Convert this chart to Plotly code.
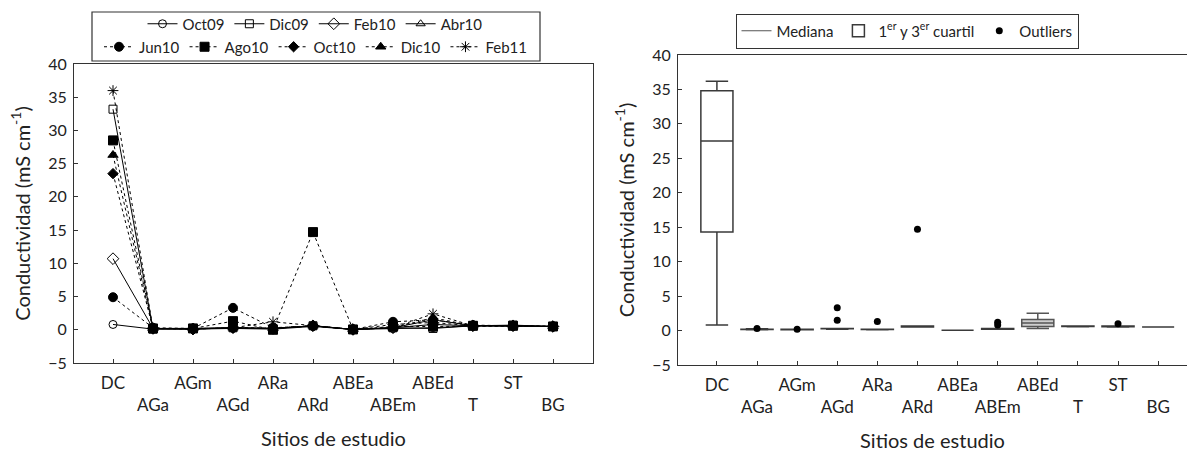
import plotly.graph_objects as go

W, H = 1187, 452

# ---------------- data ----------------
sites = ["DC", "AGa", "AGm", "AGd", "ARa", "ARd", "ABEa", "ABEm", "ABEd", "T", "ST", "BG"]

campaigns = ["Oct09", "Dic09", "Feb10", "Abr10", "Jun10", "Ago10", "Oct10", "Dic10", "Feb11"]
oct09 = [0.8, 0.1, 0.1, 0.2, 0.1, 0.5, 0.05, 0.2, 0.3, 0.6, 0.6, 0.5]
dic09 = [33.2, 0.1, 0.2, 0.3, 0.2, 0.6, 0.05, 0.3, 0.2, 0.6, 0.7, 0.5]
feb10 = [10.7, 0.2, 0.1, 0.3, 0.2, 0.6, 0.05, 0.3, 0.8, 0.6, 0.6, 0.5]
abr10 = [None, 0.2, 0.1, 0.3, 0.2, 0.6, 0.05, 0.3, 1.5, 0.6, 0.6, 0.5]
jun10 = [4.9, 0.3, 0.2, 3.3, 0.3, 0.6, 0.05, 1.2, 1.5, 0.7, 0.6, 0.5]
ago10 = [28.5, 0.2, 0.2, 1.3, 0.0, 14.7, 0.05, 0.5, 0.5, 0.6, 0.6, 0.5]
oct10 = [23.5, 0.2, 0.1, 0.3, 0.2, 0.6, 0.05, 0.8, 1.1, 0.6, 0.6, 0.5]
dic10 = [26.3, 0.2, 0.2, 0.3, 0.2, 0.6, 0.05, 0.3, 1.8, 0.6, 0.6, 0.5]
feb11 = [36.0, 0.2, 0.2, 0.3, 1.2, 0.6, 0.05, 0.3, 2.4, 0.6, 0.6, 0.5]
series = [oct09, dic09, feb10, abr10, jun10, ago10, oct10, dic10, feb11]

# box statistics per site (right panel)
q1 = [14.3, 0.15, 0.10, 0.25, 0.15, 0.50, 0.05, 0.20, 0.60, 0.60, 0.55, 0.50]
median = [27.5, 0.20, 0.15, 0.30, 0.20, 0.60, 0.05, 0.30, 1.10, 0.60, 0.60, 0.50]
q3 = [34.8, 0.20, 0.20, 0.30, 0.20, 0.65, 0.05, 0.30, 1.60, 0.65, 0.65, 0.50]
lowerfence = [0.8, 0.10, 0.10, 0.20, 0.10, 0.50, 0.05, 0.20, 0.30, 0.55, 0.50, 0.50]
upperfence = [36.2, 0.25, 0.20, 0.30, 0.20, 0.65, 0.05, 0.30, 2.50, 0.65, 0.65, 0.50]

outlier_sites = ["AGa", "AGm", "AGd", "AGd", "ARa", "ARd", "ABEm", "ABEm", "ST"]
outlier_values = [0.3, 0.2, 1.5, 3.3, 1.3, 14.7, 0.8, 1.2, 1.0]

y_ticks = [-5, 0, 5, 10, 15, 20, 25, 30, 35, 40]

# ---------------- styles ----------------
FONT = "Lato"
symbols = ["circle-open", "square-open", "diamond-open", "triangle-up-open",
           "circle", "square", "diamond", "triangle-up", "asterisk-open"]
dashes = ["solid"] * 4 + ["dot"] * 5
sizes = [8, 8, 9, 8, 9, 9, 8, 9, 9]

fig = go.Figure()

xidx = list(range(len(sites)))
for i, (name, vals) in enumerate(zip(campaigns, series)):
    fig.add_trace(go.Scatter(
        x=xidx, y=vals, name=name, mode="lines+markers",
        line=dict(color="black", width=1, dash=dashes[i]),
        marker=dict(symbol=symbols[i], size=sizes[i], color="black",
                    line=dict(color="black", width=1)),
        legend="legend" if i < 4 else "legend2",
        xaxis="x", yaxis="y", connectgaps=False,
    ))

# right panel
box_color = "#3a3a3a"
fig.add_trace(go.Scatter(
    x=[None], y=[None], mode="lines", name="Mediana",
    line=dict(color="#555555", width=1), legend="legend3",
    xaxis="x2", yaxis="y2",
))
idx_abed = sites.index("ABEd")
main_idx = [i for i in xidx if i != idx_abed]
fig.add_trace(go.Box(
    x=main_idx,
    q1=[q1[i] for i in main_idx], median=[median[i] for i in main_idx],
    q3=[q3[i] for i in main_idx],
    lowerfence=[lowerfence[i] for i in main_idx],
    upperfence=[upperfence[i] for i in main_idx],
    name="1<sup>er</sup> y 3<sup>er</sup> cuartil",
    fillcolor="white", line=dict(color=box_color, width=1.5),
    width=0.8, whiskerwidth=0.7, boxpoints=False,
    legend="legend3", xaxis="x2", yaxis="y2",
))
fig.add_trace(go.Box(
    x=[idx_abed], q1=[q1[idx_abed]], median=[median[idx_abed]], q3=[q3[idx_abed]],
    lowerfence=[lowerfence[idx_abed]], upperfence=[upperfence[idx_abed]],
    name="ABEd", showlegend=False,
    fillcolor="#cfcfcf", line=dict(color="#555555", width=1.5),
    width=0.8, whiskerwidth=0.7, boxpoints=False,
    xaxis="x2", yaxis="y2",
))
fig.add_trace(go.Scatter(
    x=[sites.index(s) for s in outlier_sites], y=outlier_values,
    mode="markers", name="Outliers",
    marker=dict(symbol="circle", size=7, color="black"),
    legend="legend3", xaxis="x2", yaxis="y2",
))

# ---------------- layout ----------------
def px_x(v):
    return v / W

def px_y(v):
    return 1 - v / H

ticktext = [s if i % 2 == 0 else "<br>" + s for i, s in enumerate(sites)]

axis_common = dict(
    showline=True, linecolor="#333333", linewidth=1.2,
    ticks="inside", ticklen=4, tickcolor="#333333",
    showgrid=False, zeroline=False, automargin=False,
)
xfont = dict(family=FONT, size=17, color="#222222")
yfont = dict(family=FONT, size=16, color="#222222")
tfont = dict(family=FONT, size=20, color="#222222")
lfont = dict(family=FONT, size=15, color="#222222")

fig.update_layout(
    width=W, height=H,
    margin=dict(l=0, r=0, t=0, b=0),
    paper_bgcolor="white", plot_bgcolor="white",
    showlegend=True,
    xaxis=dict(domain=[px_x(74), px_x(593)], range=[-0.975, 12.0],
               tickmode="array", tickvals=xidx, ticktext=ticktext, tickangle=0,
               ticklabelstandoff=4,
               tickfont=xfont, mirror=True, anchor="y",
               title=dict(text="Sitios de estudio", font=tfont, standoff=18),
               **axis_common),
    yaxis=dict(domain=[px_y(363), px_y(64)], range=[-5, 40],
               tickmode="array", tickvals=y_ticks, tickfont=yfont,
               ticklabelstandoff=3,
               mirror=True, anchor="x",
               title=dict(text="Conductividad (mS cm<sup>-1</sup>)", font=tfont, standoff=12),
               **axis_common),
    xaxis2=dict(domain=[px_x(678), 1.0], range=[-0.97, 11.72],
                tickmode="array", tickvals=xidx, ticktext=ticktext, tickangle=0,
                ticklabelstandoff=4,
                tickfont=xfont, mirror=True, anchor="y2",
                title=dict(text="Sitios de estudio", font=tfont, standoff=18),
                **axis_common),
    yaxis2=dict(domain=[px_y(365), px_y(55)], range=[-5, 40],
                tickmode="array", tickvals=y_ticks, tickfont=yfont,
                ticklabelstandoff=3,
                mirror=False, anchor="x2",
                title=dict(text="Conductividad (mS cm<sup>-1</sup>)", font=tfont, standoff=12),
                **axis_common),
    legend=dict(orientation="h", x=px_x(315), xanchor="center",
                y=px_y(24), yanchor="middle", itemwidth=30,
                font=lfont,
                bgcolor="rgba(0,0,0,0)", borderwidth=0, tracegroupgap=0),
    legend2=dict(orientation="h", x=px_x(316), xanchor="center",
                 y=px_y(47), yanchor="middle", itemwidth=30,
                 font=lfont,
                 bgcolor="rgba(0,0,0,0)", borderwidth=0),
    legend3=dict(orientation="h", x=px_x(907), xanchor="center",
                 y=px_y(31), yanchor="middle", itemwidth=30,
                 font=lfont,
                 bgcolor="white", bordercolor="#333333", borderwidth=1),
    shapes=[dict(type="rect", xref="paper", yref="paper",
                 x0=px_x(92), x1=px_x(540), y0=px_y(61), y1=px_y(12),
                 line=dict(color="#333333", width=1.2), fillcolor="rgba(0,0,0,0)",
                 layer="below")],
)

fig.write_html("out.html")
